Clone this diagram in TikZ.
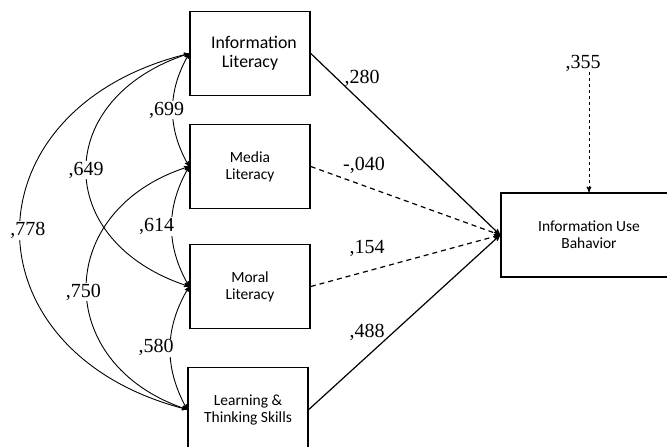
\documentclass[tikz,border=0pt]{standalone}
\usepackage{fontspec}
\setmainfont{Liberation Serif}
\newfontfamily\boxfont{Carlito}
\usetikzlibrary{arrows}
\usetikzlibrary{positioning}

\begin{document}
\begin{tikzpicture}[x=1pt,y=-1pt,>=stealth',on grid,
		var/.style={rectangle,draw=black,line width=1.6pt,minimum width=120pt,minimum height=84pt,inner sep=0pt,align=center,font=\boxfont\fontsize{15.5}{17}\selectfont},
		coef/.style={font=\fontsize{20}{20}\selectfont,inner sep=1pt},
		gap/.style={fill=white,inner xsep=2pt,inner ysep=9pt},
		cov/.style={<->,line width=0.9pt},
		dsh/.style={dash pattern=on 5pt off 4pt}]
		\useasboundingbox (0,0) rectangle (667,447);
		\clip (0,0) rectangle (667,447);
		
		\node[var,font=\boxfont\fontsize{17.8}{19}\selectfont]  (il)  at (250,53.5)  {\hspace*{8pt}Information\\ Literacy};
		\node[var]  (ml)  [below=113pt of il]             {Media\\ Literacy};
		\node[var]  (mol) [below=120pt of ml]             {Moral\\ Literacy};
		\node[var]  (lts) [below=123pt of mol,xshift=-2pt] {Learning \&\\ Thinking Skills};
		\node[var,minimum width=176pt]  (iub)  at (589,235) {Information Use\\ Bahavior};
		
		\node[coef] (b280) at (362,78)  {,280};
		\node[coef] (b040) at (364,165) {-,040};
		\node[coef] (b154) at (367,248) {,154};
		\node[coef] (b488) at (367,332) {,488};
		\node[coef] (e355) at (583,63)  {,355};
		
		% paths to the outcome
		\path[->,line width=1.2pt]
		(il.east) edge (iub.west)
		(ml.east) edge[dsh] (iub.west)
		(mol.east) edge[dsh] (iub.west)
		(lts.east) edge (iub.west);
		
		\draw[->,line width=1pt,dash pattern=on 3pt off 3pt] (iub.north |- e355.south) -- (iub.north);
		
		% correlations
		\path[cov]
		(il.west) edge[bend right=30] node[gap,coef,xshift=-6pt]{,699} (ml.west)
		(ml.west) edge[bend right=30] node[gap,coef,xshift=-15pt]{,614} (mol.west)
		(mol.west) edge[bend right=30] node[gap,coef,xshift=-14pt]{,580} (lts.west)
		(il.west) edge[bend right=72,looseness=1.59] node[gap,coef]{,649} (mol.west)
		(ml.west) edge[bend right=72,looseness=1.5] node[gap,coef,xshift=-3pt,yshift=-5pt]{,750} (lts.west)
		(il.west) edge[bend right=76,looseness=1.66] node[gap,coef,xshift=8pt]{,778} (lts.west);
		\end{tikzpicture}
\end{document}
